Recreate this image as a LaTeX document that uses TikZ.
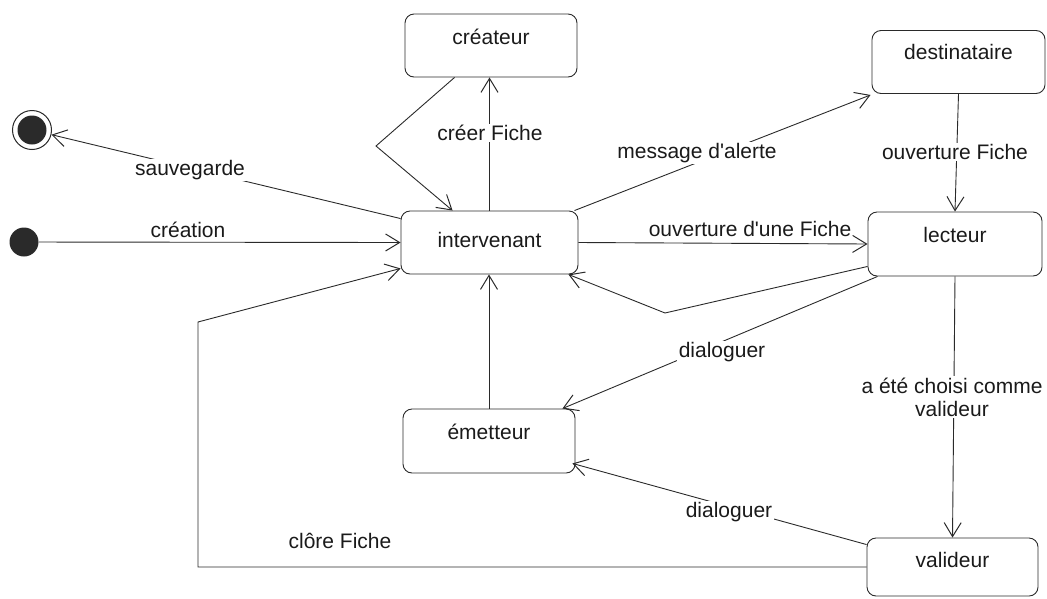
\documentclass[tikz,border=0pt]{standalone}
\usepackage{fontspec}
\setmainfont{Liberation Sans}[Ligatures=TeXOff]
\usetikzlibrary{arrows.meta,calc}
\definecolor{ink}{HTML}{2A2A2A}
\definecolor{txt}{HTML}{1A1A1A}
\tikzset{
  state/.style={draw=ink, line width=0.9pt, rounded corners=9pt, text=txt,
    minimum width=172pt, minimum height=63pt, inner sep=0pt,
    text height=14pt, text depth=16pt},
  pseudo/.style={circle, fill=ink, inner sep=0pt},
  lbl/.style={text=txt, inner sep=1.5pt},
  wlbl/.style={lbl, fill=white},
  edge/.style={draw=ink, line width=0.9pt,
    -{Straight Barb[length=14pt,width=17pt,line width=1pt]}},
  plain/.style={draw=ink, line width=0.9pt}
}
\begin{document}
\begin{tikzpicture}[x=1pt, y=-1pt, font=\fontsize{21}{23}\selectfont]
\useasboundingbox (0,0) rectangle (1047,598);
% states
\node[state] (cre) at (491,45.5) {créateur};
\node[state, minimum width=173pt, text depth=19pt] (dest) at (958.5,62) {destinataire};
\node[state, minimum width=177pt, text depth=4pt] (inter) at (489.5,242.5) {intervenant};
\node[state, minimum width=174pt, minimum height=64pt, text depth=18pt] (lec) at (955,244) {lecteur};
\node[state, minimum height=64pt, text depth=18pt] (emet) at (489,441) {émetteur};
\node[state, minimum width=171pt, minimum height=58pt, text depth=13pt] (val) at (952.5,567) {valideur};
% pseudo states
\node[pseudo, minimum size=29pt] (init) at (24,242) {};
\node[circle, draw=ink, line width=1pt, minimum size=39pt, inner sep=0pt] (fin) at (32,130) {};
\node[pseudo, minimum size=29pt] (finin) at (fin) {};
% bend points
\coordinate (b1) at (376,146);
\coordinate (b2) at (665,313);
\coordinate (b3) at (198,322);
% connectors
\draw[edge] (init) -- (inter.west);
\draw[edge] ([yshift=-8pt]inter.north west) -- (fin);
\draw[edge] (inter.north) -- (inter.north |- cre.south);
\draw[edge] ([xshift=50pt]cre.south west) -- (b1) -- ([xshift=52pt]inter.north west);
\draw[edge] ([xshift=-4pt]inter.north east) -- ([xshift=-1pt,yshift=-1pt]dest.south west);
\draw[edge] (dest.south) -- (lec.north);
\draw[edge] (inter.east) -- (lec.west);
\draw[edge] ([yshift=10pt]lec.south west) -- (b2) -- ([xshift=-10pt]inter.south east);
\draw[edge] ([xshift=10pt]lec.south west) -- ([xshift=-13pt]emet.north east);
\draw[edge] ([yshift=-7pt]val.north west) -- ([xshift=-3pt,yshift=10pt]emet.south east);
\draw[edge] (lec.south) -- (val.north);
\draw[edge] (emet.north) -- (emet.north |- inter.south);
\draw[edge] (val.west) -| (b3) -- ([yshift=6pt]inter.south west);
% labels
\node[wlbl] (l1) at (190,170) {sauvegarde};
\node[lbl] (l2) at (188,230) {création};
\node[wlbl] (l3) at (490,133) {créer Fiche};
\node[wlbl] (l4) at (697,153) {message d'alerte};
\node[wlbl] (l5) at (955,152) {ouverture Fiche};
\node[lbl] (l6) at (750,229) {ouverture d'une Fiche};
\node[wlbl] (l7) at (722,352) {dialoguer};
\node[wlbl, align=center] (l8) at (952,397) {a été choisi comme\\valideur};
\node[wlbl] (l9) at (729,512) {dialoguer};
\node[lbl] (l10) at (340,541) {clôre Fiche};
\end{tikzpicture}
\end{document}
